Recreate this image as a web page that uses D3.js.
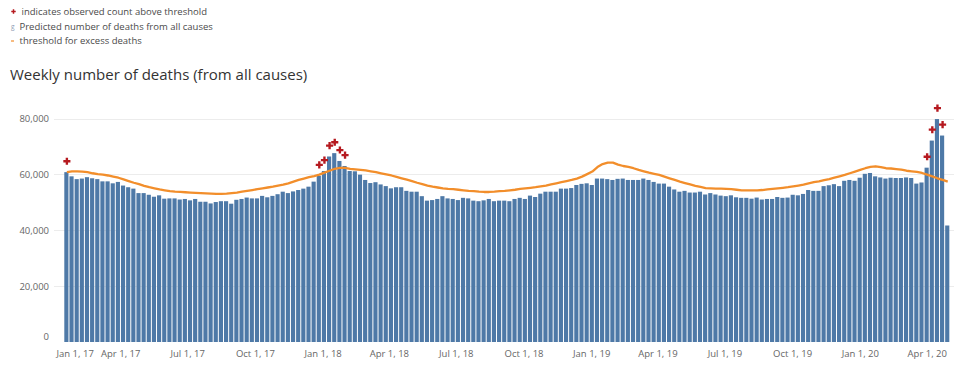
<!DOCTYPE html>
<html>
<head>
  <meta charset="utf-8">
  <title>Weekly number of deaths (from all causes)</title>
  <script src="https://cdn.jsdelivr.net/npm/d3@7"></script>
  <style>
    body { margin: 0; background: #fff; }
    svg text { font-family: 'Open Sans', sans-serif; }
    .legend text { font-size: 9.5px; fill: #4a4a4a; }
    .title { font-size: 15px; fill: #333; }
    .axis text { font-size: 9.5px; fill: #666; }
    .axis path, .axis line { display: none; }
    .grid line { stroke: #ececec; stroke-width: 1; }
  </style>
</head>
<body>
<svg id="chart" width="960" height="366"></svg>
<script>

// first week shown (each bar is one week)
var firstWeek = '2017-01-15';

// weekly deaths, all causes
var deaths = [
  60800, 59300, 58300, 58500, 59000, 58600, 58300, 57500, 57500, 56800,
  57300, 56000, 55400, 54900, 53300, 53300, 52700, 52000, 52500, 51300,
  51400, 51400, 51000, 51200, 50700, 51200, 50200, 50200, 49600, 50100,
  50400, 50400, 49500, 50900, 51200, 51700, 51400, 51400, 52300, 51800,
  52300, 52900, 53800, 53300, 53900, 54400, 54900, 55600, 57400, 59500,
  61200, 66400, 67600, 64800, 63000, 61200, 61100, 59900, 58000, 56900,
  57200, 56400, 55800, 55000, 55400, 55400, 54100, 53800, 53800, 52200,
  50600, 50800, 51200, 52200, 51400, 51200, 50800, 51600, 51400, 50600,
  50400, 50700, 51200, 50400, 50600, 50600, 50400, 51200, 51600, 51200,
  52400, 51900, 53100, 53800, 53800, 53800, 54900, 54900, 55100, 56200,
  56600, 56800, 56200, 58500, 58500, 58300, 58000, 58400, 58500, 58000,
  58000, 58000, 58500, 58000, 57300, 56700, 56700, 55600, 54600, 53800,
  54100, 53500, 53500, 53800, 52800, 53300, 52800, 52400, 52200, 52500,
  51800, 51600, 51600, 51300, 51700, 51000, 51200, 51200, 51900, 51600,
  51700, 52700, 52500, 53000, 54400, 54100, 54100, 55800, 56100, 56500,
  55800, 57700, 58000, 57700, 58800, 60200, 60500, 59300, 58900, 58500,
  58800, 58700, 58700, 58900, 58700, 56700, 57100, 62400, 72100, 79800,
  73900, 41700
];

// threshold for excess deaths
var threshold = [
  60800, 61100, 61100, 61000, 60800, 60400, 60100, 59900, 59600, 59200,
  58800, 58200, 57600, 57000, 56500, 55900, 55400, 55000, 54600, 54300,
  54000, 53800, 53700, 53600, 53500, 53400, 53300, 53200, 53100, 53000,
  53000, 53100, 53300, 53500, 53800, 54100, 54400, 54700, 55000, 55300,
  55600, 56000, 56300, 56800, 57400, 58000, 58500, 59000, 59400, 59900,
  60600, 61300, 62000, 62300, 62300, 62000, 61800, 61600, 61400, 61100,
  60800, 60400, 60000, 59600, 59100, 58600, 58100, 57600, 57000, 56500,
  56000, 55600, 55300, 55000, 54800, 54700, 54500, 54300, 54100, 54000,
  53800, 53700, 53700, 53800, 54000, 54100, 54300, 54500, 54800, 55000,
  55200, 55400, 55700, 56000, 56400, 56800, 57200, 57600, 58000, 58500,
  59200, 60100, 61000, 62600, 63700, 64200, 64200, 63500, 63000, 62700,
  62200, 61600, 61100, 60600, 60200, 59800, 59200, 58600, 58000, 57400,
  56900, 56400, 55900, 55500, 55100, 55000, 54900, 54900, 54800, 54700,
  54500, 54300, 54300, 54300, 54300, 54400, 54600, 54800, 55000, 55200,
  55400, 55700, 56000, 56300, 56800, 57200, 57500, 57900, 58300, 58800,
  59300, 59800, 60400, 61000, 61600, 62200, 62700, 62900, 62600, 62200,
  62100, 61900, 61700, 61300, 61100, 60900, 60500, 59900, 59300, 58600,
  58000, 57400
];

// weeks (by position) where the observed count is above the threshold
var flagged = [0, 49, 50, 51, 52, 53, 54, 167, 168, 169, 170];

var yTicks = [0, 20000, 40000, 60000, 80000];
var xTicks = ['2017-01-01', '2017-04-01', '2017-07-01', '2017-10-01',
              '2018-01-01', '2018-04-01', '2018-07-01', '2018-10-01',
              '2019-01-01', '2019-04-01', '2019-07-01', '2019-10-01',
              '2020-01-01', '2020-04-01'];

var legendLabels = ['indicates observed count above threshold',
                    'Predicted number of deaths from all causes',
                    'threshold for excess deaths'];
var title = 'Weekly number of deaths (from all causes)';

(function () {

  var barColor = '#4e79a7',
      lineColor = '#f28e2b',
      plusColor = '#b5191f',
      plusLift = 3900;

  var parse = d3.utcParse('%Y-%m-%d'),
      fmt = d3.utcFormat('%b %-d, %y'),
      start = parse(firstWeek),
      weeks = deaths.map(function (d, i) { return d3.utcDay.offset(start, 7 * i); });

  var plotLeft = 54, plotRight = 954, plotTop = 118.5, plotBottom = 342;

  var x = d3.scaleUtc()
      .domain([parse('2017-01-01'), parse('2020-05-08')])
      .range([plotLeft, plotRight]);

  var y = d3.scaleLinear()
      .domain([0, 80000])
      .range([plotBottom, plotTop]);

  function barW(d) { return x(d3.utcDay.offset(d, 7)) - x(d); }
  function mid(d) { return x(d) + barW(d) / 2; }

  var svg = d3.select('#chart');

  // legend
  var legend = svg.append('g').attr('class', 'legend');

  legend.append('path')
      .attr('d', d3.symbol().type(d3.symbolCross).size(11)())
      .attr('transform', 'translate(13.5,11.5)')
      .style('fill', plusColor);
  legend.append('text')
      .attr('x', 11).attr('y', 29)
      .style('font-size', '6.5px').style('fill', '#8d9cb3')
      .text('g');
  legend.append('line')
      .attr('x1', 11).attr('x2', 14).attr('y1', 41).attr('y2', 41)
      .style('stroke', lineColor).style('stroke-width', 1.2);

  legend.selectAll('text.lbl')
      .data(legendLabels)
    .enter().append('text')
      .attr('class', 'lbl')
      .attr('x', function (d, i) { return i === 0 ? 21.5 : 19.5; })
      .attr('y', function (d, i) { return 15.3 + i * 14.2; })
      .text(function (d) { return d; });

  svg.append('text')
      .attr('class', 'title')
      .attr('x', 10).attr('y', 80)
      .text(title);

  // grid
  svg.append('g')
      .attr('class', 'grid')
    .selectAll('line')
      .data(yTicks.filter(function (d) { return d > 0; }))
    .enter().append('line')
      .attr('x1', plotLeft).attr('x2', plotRight)
      .attr('y1', function (d) { return Math.round(y(d)) + 0.5; })
      .attr('y2', function (d) { return Math.round(y(d)) + 0.5; });

  // axes
  var yAxis = svg.append('g')
      .attr('class', 'axis')
      .attr('transform', 'translate(' + plotLeft + ',0)')
      .call(d3.axisLeft(y).tickValues(yTicks).tickFormat(d3.format(',')).tickSize(0).tickPadding(5));
  yAxis.selectAll('.tick text')
      .filter(function (d) { return d === 0; })
      .attr('dy', '-0.3em');

  var xAxis = svg.append('g')
      .attr('class', 'axis')
      .attr('transform', 'translate(0,' + plotBottom + ')')
      .call(d3.axisBottom(x).tickValues(xTicks.map(parse)).tickFormat(fmt).tickSize(0).tickPadding(8));
  xAxis.selectAll('.tick text')
      .filter(function (d, i) { return i === 0; })
      .attr('text-anchor', 'start')
      .attr('x', 2);

  // bars
  svg.append('g')
    .selectAll('rect')
      .data(deaths)
    .enter().append('rect')
      .attr('x', function (d, i) { return x(weeks[i]); })
      .attr('width', function (d, i) { return barW(weeks[i]) - 1; })
      .attr('y', function (d) { return y(d); })
      .attr('height', function (d) { return y(0) - y(d); })
      .style('fill', barColor);

  // threshold line
  var line = d3.line()
      .x(function (d, i) { return mid(weeks[i]); })
      .y(function (d) { return y(d); });

  svg.append('path')
      .datum(threshold)
      .attr('d', line)
      .style('fill', 'none')
      .style('stroke', lineColor)
      .style('stroke-width', 2.3)
      .style('stroke-linejoin', 'round');

  // pluses
  svg.append('g')
    .selectAll('path')
      .data(flagged)
    .enter().append('path')
      .attr('d', d3.symbol().type(d3.symbolCross).size(28)())
      .attr('transform', function (i) {
        return 'translate(' + mid(weeks[i]) + ',' + y(deaths[i] + plusLift) + ')';
      })
      .style('fill', plusColor);

})();

</script>
</body>
</html>
